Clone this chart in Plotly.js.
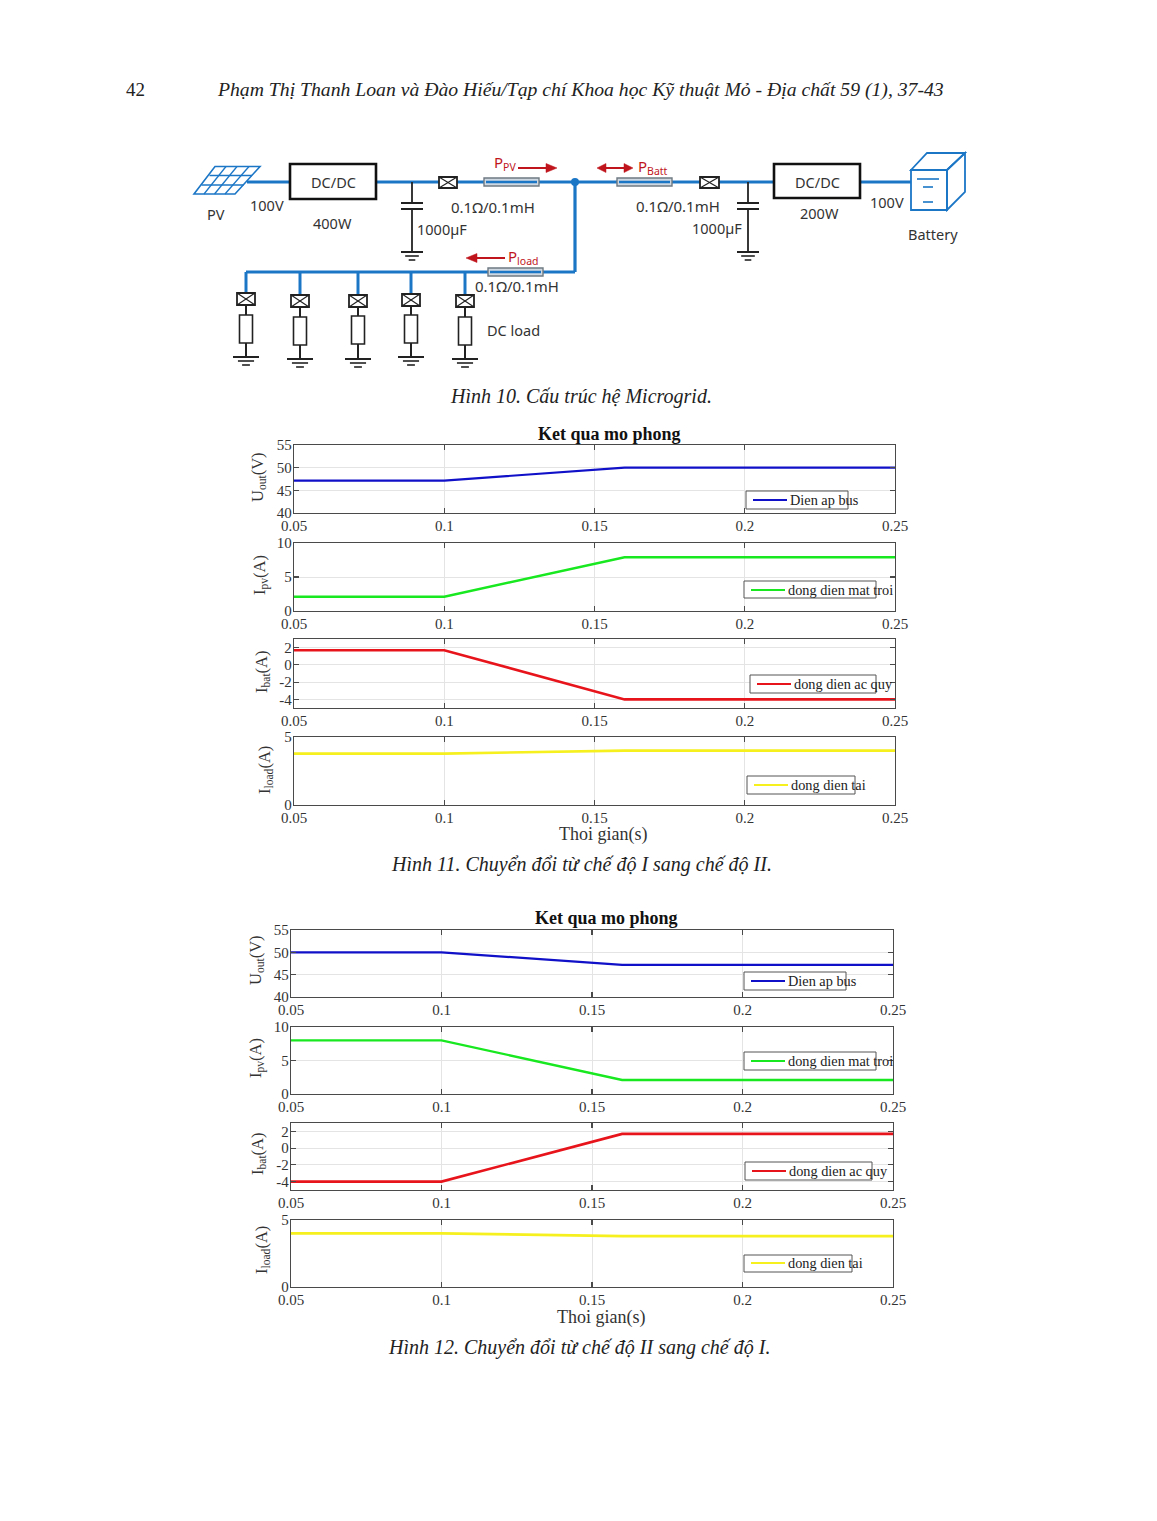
<!DOCTYPE html>
<html>
<head>
<meta charset="utf-8">
<script src="https://cdn.plot.ly/plotly-3.0.1.min.js"></script>
<style>html,body{margin:0;padding:0;background:#fff}#chart{width:1157px;height:1521px}</style>
</head>
<body>
<div id="chart"></div>
<script>
// ---- data ----
const timeBreaks = [0.05, 0.1, 0.16, 0.25];
const xTickVals = [0.05, 0.1, 0.15, 0.2, 0.25];
const xTickText = ['0.05', '0.1', '0.15', '0.2', '0.25'];
const uOutA = [47.15, 47.15, 50, 50];
const iPvA = [2.1, 2.1, 7.9, 7.9];
const iBatA = [1.7, 1.7, -4, -4];
const iLoadA = [3.78, 3.78, 4.0, 4.0];
const uOutB = [50, 50, 47.2, 47.2];
const iPvB = [8, 8, 2.1, 2.1];
const iBatB = [-4, -4, 1.7, 1.7];
const iLoadB = [4.0, 4.0, 3.8, 3.8];
const seriesNames = ['Dien ap bus', 'dong dien mat troi', 'dong dien ac quy', 'dong dien tai'];
const seriesColors = ['#1010c8', '#17e81f', '#e8141c', '#f5f01e'];
const seriesWidths = [2.2, 2.4, 2.6, 2.6];
const yRanges = [[40, 55], [0, 10], [-5, 3], [0, 5]];
const yTicks = [[40, 45, 50, 55], [0, 5, 10], [-4, -2, 0, 2], [0, 5]];
const yTitles = ['U<sub>out</sub>(V)', 'I<sub>pv</sub>(A)', 'I<sub>bat</sub>(A)', 'I<sub>load</sub>(A)'];

// ---- page geometry (pixels) ----
const W = 1157, H = 1521;
const px = x => x / W, py = y => 1 - y / H;
const SERIF = '"Liberation Serif", serif';
const SANS = '"Noto Sans", sans-serif';

const groups = [
  {x: [294, 895], rows: [[445, 513], [543, 611], [639, 708], [737, 805]], vals: [uOutA, iPvA, iBatA, iLoadA],
   yt: [[258, 477], [260, 575], [262, 672], [265, 770]],
   title: [609, 434], xt: [603, 834],
   leg: [[746, 848, 491, 509, 753, 500], [744, 876, 581, 598, 751, 590], [750, 876, 675, 693, 757, 684], [747, 855, 776, 794, 754, 785]]},
  {x: [291, 893], rows: [[930, 997], [1027, 1094], [1123, 1190], [1220, 1287]], vals: [uOutB, iPvB, iBatB, iLoadB],
   yt: [[256, 960], [256, 1058], [258, 1154], [262, 1250]],
   title: [606, 918], xt: [601, 1316],
   leg: [[744, 846, 972, 990, 751, 981], [744, 876, 1052, 1070, 751, 1061], [745, 872, 1162, 1180, 752, 1171], [744, 852, 1255, 1272, 751, 1263]]}
];

const traces = [], shapes = [], annotations = [];
const layout = {
  width: W, height: H, margin: {l: 0, r: 0, t: 0, b: 0},
  paper_bgcolor: '#fff', plot_bgcolor: '#fff', showlegend: false,
  shapes, annotations
};

// helpers for drawing in page pixels
function text(t, x, y, size, o) {
  o = o || {};
  annotations.push({text: t, xref: 'paper', yref: 'paper', x: px(x), y: py(y), showarrow: false,
    xanchor: o.anchor || 'center', yanchor: 'middle', textangle: o.angle || 0,
    font: {family: o.family || SERIF, size, color: o.color || '#222'}, borderpad: 0});
}
function line(x0, y0, x1, y1, color, width) {
  shapes.push({type: 'line', xref: 'paper', yref: 'paper', x0: px(x0), y0: py(y0), x1: px(x1), y1: py(y1),
    line: {color, width}, layer: 'above'});
}
function rect(x0, y0, x1, y1, color, width, fill) {
  shapes.push({type: 'rect', xref: 'paper', yref: 'paper', x0: px(x0), y0: py(y0), x1: px(x1), y1: py(y1),
    line: {color, width}, fillcolor: fill || 'rgba(0,0,0,0)', layer: 'above'});
}
function poly(pts, color, width, fill) {
  const path = pts.map((p, i) => (i ? 'L' : 'M') + px(p[0]) + ',' + py(p[1])).join(' ') + ' Z';
  shapes.push({type: 'path', xref: 'paper', yref: 'paper', path, line: {color, width},
    fillcolor: fill || 'rgba(0,0,0,0)', layer: 'above'});
}

// ---- the eight plots ----
let n = 0;
groups.forEach(g => {
  g.rows.forEach((r, i) => {
    n++;
    const xk = n === 1 ? 'xaxis' : 'xaxis' + n, yk = n === 1 ? 'yaxis' : 'yaxis' + n;
    const xa = n === 1 ? 'x' : 'x' + n, ya = n === 1 ? 'y' : 'y' + n;
    traces.push({x: timeBreaks, y: g.vals[i], xaxis: xa, yaxis: ya, type: 'scatter', mode: 'lines',
      name: seriesNames[i], line: {color: seriesColors[i], width: seriesWidths[i]}, hoverinfo: 'skip'});
    const common = {showline: true, linecolor: '#4a4a4a', linewidth: 1.3, mirror: 'ticks', ticks: 'inside',
      ticklen: 5, tickwidth: 1.2, tickcolor: '#4a4a4a', showgrid: true, gridcolor: '#e4e4e4', gridwidth: 1,
      zeroline: false, tickfont: {family: SERIF, size: 15, color: '#333'}};
    layout[xk] = Object.assign({}, common, {anchor: ya, domain: [px(g.x[0]), px(g.x[1])], range: [0.05, 0.25],
      tickmode: 'array', tickvals: xTickVals, ticktext: xTickText, ticklabelstandoff: -1});
    layout[yk] = Object.assign({}, common, {anchor: xa, domain: [py(r[1]), py(r[0])], range: yRanges[i],
      tickmode: 'array', tickvals: yTicks[i], ticktext: yTicks[i].map(String), ticklabelstandoff: -2});
    text(yTitles[i], g.yt[i][0], g.yt[i][1], 16.5, {angle: -90, color: '#333'});
    const L = g.leg[i];
    rect(L[0], L[2], L[1], L[3], '#555', 1, '#fff');
    line(L[4], L[5], L[4] + 34, L[5], seriesColors[i], 2.2);
    text(seriesNames[i], L[4] + 36, L[5], 14.3, {anchor: 'left', color: '#222'});
  });
  text('<b>Ket qua mo phong</b>', g.title[0], g.title[1], 18, {color: '#111'});
  text('Thoi gian(s)', g.xt[0], g.xt[1] + 1, 18, {color: '#333'});
});

// ---- page text ----
text('42', 135, 90, 19, {family: SERIF, color: '#222'});
text('<i>Phạm Thị Thanh Loan và Đào Hiếu/Tạp chí Khoa học Kỹ thuật Mỏ - Địa chất 59 (1), 37-43</i>', 580, 90, 19.7);
text('<i>Hình 10. Cấu trúc hệ Microgrid.</i>', 581, 396, 20);
text('<i>Hình 11. Chuyển đổi từ chế độ I sang chế độ II.</i>', 581, 864, 20);
text('<i>Hình 12. Chuyển đổi từ chế độ II sang chế độ I.</i>', 579, 1347, 20);

// ---- circuit schematic ----
const BLUE = '#1b76c6', BK = '#222', RED = '#c0151c';
function ground(x, y, w) {
  line(x - w, y, x + w, y, BK, 2);
  line(x - w * 0.62, y + 4, x + w * 0.62, y + 4, BK, 1.6);
  line(x - w * 0.3, y + 8, x + w * 0.3, y + 8, BK, 1.6);
}
function sw(x0, y0, x1, y1) {
  rect(x0, y0, x1, y1, BK, 1.8, '#fff');
  line(x0, y0, x1, y1, BK, 1.2);
  line(x0, y1, x1, y0, BK, 1.2);
}
function pill(x0, x1, y) {
  shapes.push({type: 'rect', xref: 'paper', yref: 'paper', x0: px(x0), y0: py(y - 4), x1: px(x1), y1: py(y + 4),
    line: {color: '#6f7a82', width: 1.4}, fillcolor: '#cfd8e0', layer: 'above'});
  line(x0 + 2, y, x1 - 2, y, BLUE, 2.6);
}
function cap(x, w, yBus) {
  line(x, yBus, x, 203, BK, 1.8);
  line(x - w, 203, x + w, 203, BK, 2);
  line(x - w, 209, x + w, 209, BK, 2);
  line(x, 209, x, 252, BK, 1.8);
  ground(x, 252, w);
}
// bus lines
line(247, 182, 290, 182, BLUE, 3);
line(376, 182, 439, 182, BLUE, 3);
line(457, 182, 575, 182, BLUE, 3);
line(575, 182, 617, 182, BLUE, 3);
line(672, 182, 700, 182, BLUE, 3);
line(719, 182, 774, 182, BLUE, 3);
line(860, 182, 911, 182, BLUE, 3);
line(575, 182, 575, 272, BLUE, 3.2);
line(246, 272, 575, 272, BLUE, 3.2);
shapes.push({type: 'circle', xref: 'paper', yref: 'paper', x0: px(571), y0: py(178), x1: px(579), y1: py(186),
  fillcolor: BLUE, line: {color: BLUE, width: 0}, layer: 'above'});
// PV panel
poly([[215, 166.5], [260, 166.5], [235, 194], [194, 194]], BLUE, 1.6);
line(209.5, 175.5, 252, 175.5, BLUE, 1.3);
line(201.5, 185, 243.5, 185, BLUE, 1.3);
line(226, 166.5, 204, 194, BLUE, 1.3);
line(237, 166.5, 214.5, 194, BLUE, 1.3);
line(249, 166.5, 225, 194, BLUE, 1.3);
// converters
rect(290, 164, 376, 199, '#111', 2.6, '#fff');
rect(774, 164, 860, 198, '#111', 2.6, '#fff');
// series elements
sw(439, 177, 457, 188);
sw(700, 177, 719, 188);
pill(484, 539, 182);
pill(617, 672, 182);
pill(488, 543, 272);
cap(412, 11, 182);
cap(748, 11, 182);
// load branches
const branches = [[246, 293, 315, 357], [300, 295, 317, 359], [358, 295, 316, 359], [411, 294, 315, 357], [465, 295, 317, 359]];
branches.forEach(b => {
  line(b[0], 272, b[0], b[1], BLUE, 3);
  line(b[0], b[1] + 12, b[0], b[3], BK, 2);
  sw(b[0] - 9, b[1], b[0] + 9, b[1] + 12);
  rect(b[0] - 6.5, b[2], b[0] + 6.5, b[2] + 28, BK, 1.6, '#fff');
  ground(b[0], b[3], 13);
});
// battery
rect(911, 170, 947, 210, BLUE, 1.8, '#fff');
poly([[911, 170], [927, 153], [965, 153], [947, 170]], BLUE, 1.8);
poly([[947, 170], [965, 153], [965, 192], [947, 210]], BLUE, 1.8);
line(917, 179, 939, 179, BLUE, 1.6);
line(923, 187, 933, 187, BLUE, 1.6);
line(923, 202, 933, 202, BLUE, 1.6);
// power arrows
line(518, 168, 547, 168, RED, 2);
poly([[546, 163.5], [557, 168], [546, 172.5]], RED, 0.5, RED);
line(476, 258, 505, 258, RED, 2);
poly([[477, 253.5], [466, 258], [477, 262.5]], RED, 0.5, RED);
line(605, 168, 625, 168, RED, 2);
poly([[606, 163.5], [597, 168], [606, 172.5]], RED, 0.5, RED);
poly([[624, 163.5], [633, 168], [624, 172.5]], RED, 0.5, RED);
// labels
const SC = {family: SANS, color: '#333'};
text('PV', 216, 214, 14.5, SC);
text('100V', 267, 205, 14.5, SC);
text('400W', 332, 223, 14.5, SC);
text('DC/DC', 333, 182, 14.5, SC);
text('DC/DC', 817, 182, 14.5, SC);
text('1000µF', 442, 229, 14.5, SC);
text('1000µF', 717, 228, 14.5, SC);
text('0.1Ω/0.1mH', 493, 207, 15, SC);
text('0.1Ω/0.1mH', 517, 286, 15, SC);
text('0.1Ω/0.1mH', 678, 206, 15, SC);
text('DC load', 513, 330, 14.5, SC);
text('200W', 819, 213, 14.5, SC);
text('100V', 887, 202, 14.5, SC);
text('Battery', 933, 234, 14.5, SC);
text('P<sub>PV</sub>', 505, 163, 15, {family: SANS, color: RED});
text('P<sub>load</sub>', 523, 257, 15, {family: SANS, color: RED});
text('P<sub>Batt</sub>', 653, 167, 15, {family: SANS, color: RED});

Plotly.newPlot('chart', traces, layout, {displayModeBar: false, staticPlot: true});
</script>
</body>
</html>
